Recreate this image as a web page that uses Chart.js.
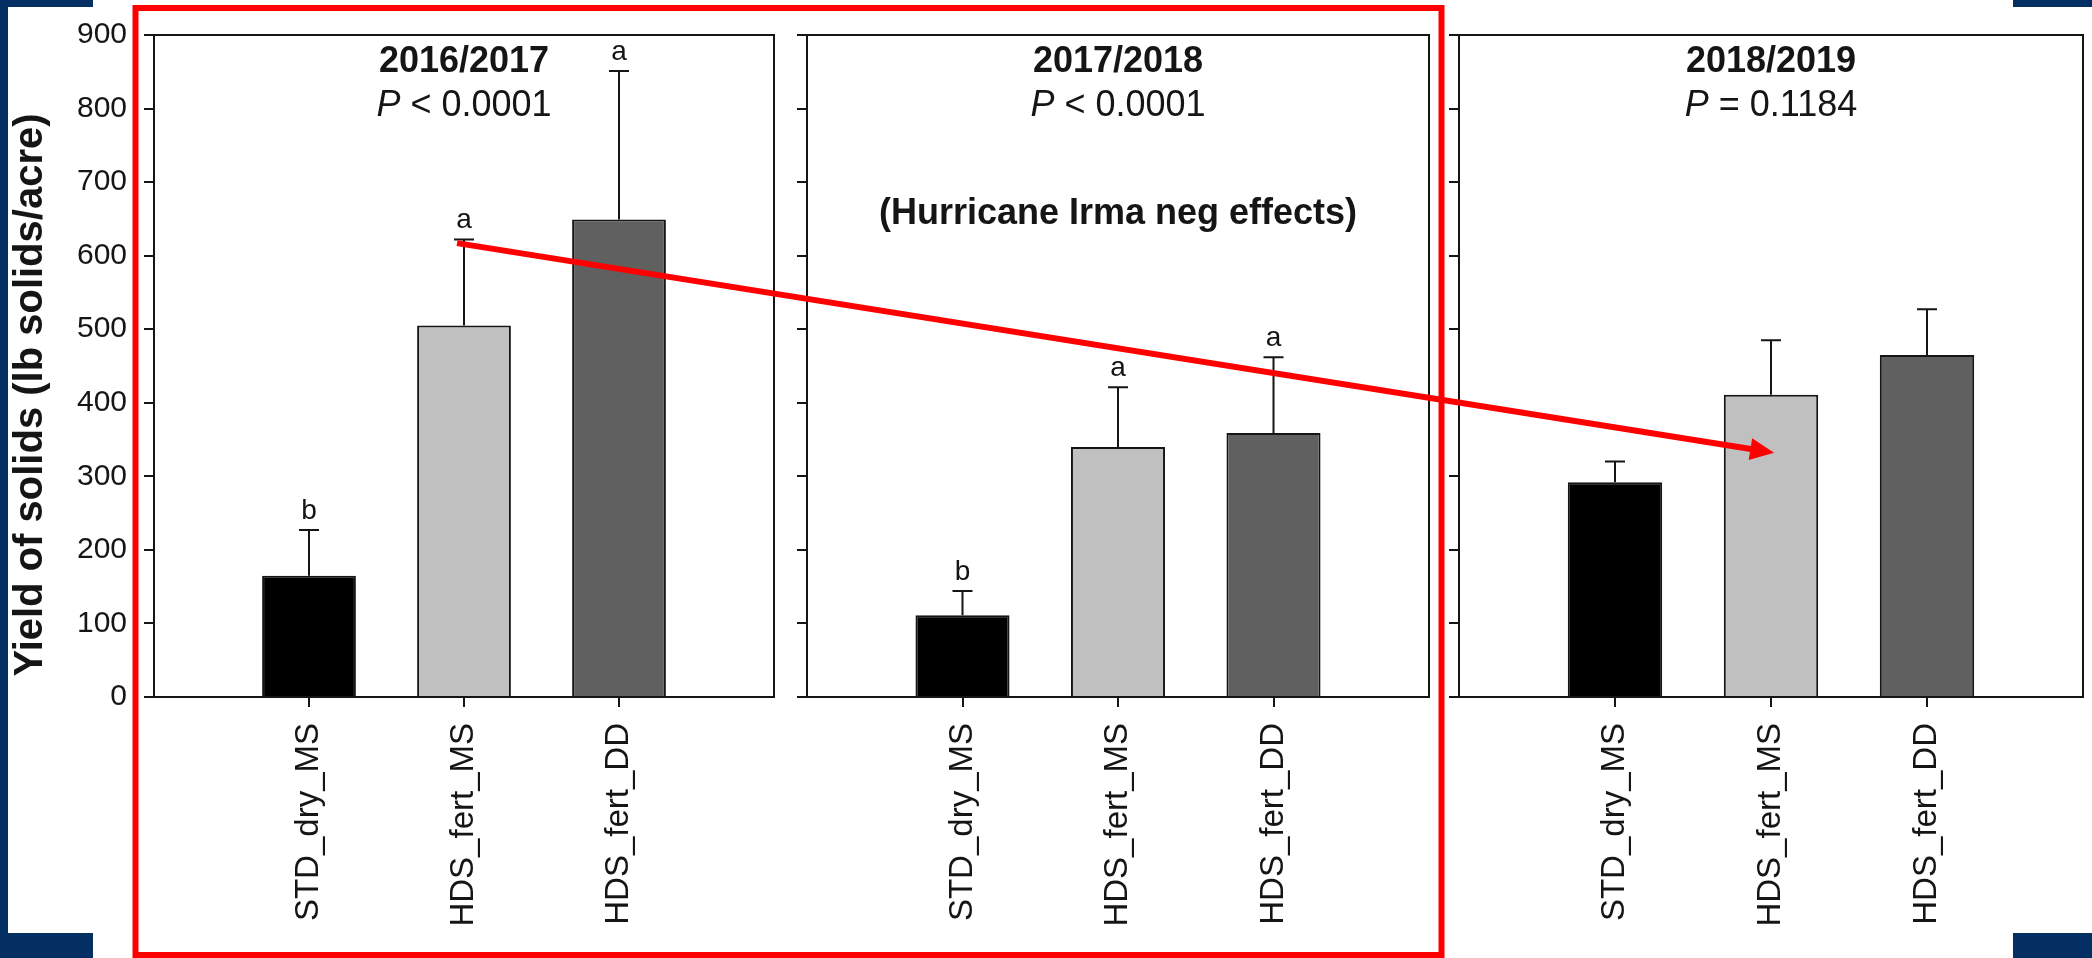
<!DOCTYPE html>
<html>
<head>
<meta charset="utf-8">
<title>Yield of solids by season</title>
<script src="https://cdn.jsdelivr.net/npm/chart.js@4.4.1/dist/chart.umd.min.js"></script>
<style>
  html, body { margin: 0; padding: 0; background: #ffffff; }
  #stage { position: relative; width: 2092px; height: 958px; overflow: hidden; background: #ffffff; }
  #stage canvas { position: absolute; left: 0; top: 0; }
</style>
</head>
<body>
<div id="stage">
  <canvas id="panel0" width="2092" height="958"></canvas>
  <canvas id="panel1" width="2092" height="958"></canvas>
  <canvas id="panel2" width="2092" height="958"></canvas>
  <canvas id="overlay" width="2092" height="958"></canvas>
</div>
<script>
// ---- data ----
const categories = ['STD_dry_MS', 'HDS_fert_MS', 'HDS_fert_DD'];
const seasons = ['2016/2017', '2017/2018', '2018/2019'];
const pRelations = ['<', '<', '='];
const pValues = ['0.0001', '0.0001', '0.1184'];
const yTickValues = [0, 100, 200, 300, 400, 500, 600, 700, 800, 900];

const yield1617 = [165, 505, 649];
const se1617 = [62, 117, 202];
const letters1617 = ['b', 'a', 'a'];

const yield1718 = [111, 340, 359];
const se1718 = [33, 81, 103];
const letters1718 = ['b', 'a', 'a'];

const yield1819 = [292, 411, 465];
const se1819 = [28, 74, 62];
const letters1819 = ['', '', ''];

const seasonNote = ['', '(Hurricane Irma neg effects)', ''];
const yTitle = 'Yield of solids (lb solids/acre)';

// ---- styling / layout ----
const FONT = "'Liberation Sans', Arial, Helvetica, sans-serif";
const INK = '#151515';
const barFill = ['#000000', '#c0c0c0', '#606060'];
const NAVY = '#032f63';
const RED = '#ff0000';
const W = 2092, H = 958;
const plotTop = 25, plotBottom = 697;
const panelFrames = [
  { padLeft: 0, left: 154, right: 774, labels: true },
  { padLeft: 780, left: 807, right: 1429, labels: false },
  { padLeft: 1432, left: 1459, right: 2083, labels: false }
];

Chart.defaults.font.family = FONT;
Chart.defaults.color = INK;

// error bars, significance letters, season headings and the panel box
const panelDecor = {
  id: 'panelDecor',
  afterDatasetsDraw(chart, args, opts) {
    const ctx = chart.ctx;
    const area = chart.chartArea;
    const ys = chart.scales.y;
    const meta = chart.getDatasetMeta(0);
    ctx.save();
    // box top and right side
    ctx.strokeStyle = INK;
    ctx.lineWidth = 2;
    ctx.beginPath();
    ctx.moveTo(area.left, area.top);
    ctx.lineTo(area.right, area.top);
    ctx.lineTo(area.right, area.bottom);
    ctx.stroke();

    // error bars
    ctx.lineWidth = 2;
    meta.data.forEach((bar, k) => {
      const v = opts.values[k];
      const e = opts.errors[k];
      const yBar = ys.getPixelForValue(v);
      const yTop = ys.getPixelForValue(v + e);
      ctx.beginPath();
      ctx.moveTo(bar.x, yBar);
      ctx.lineTo(bar.x, yTop);
      ctx.moveTo(bar.x - 10, yTop);
      ctx.lineTo(bar.x + 10, yTop);
      ctx.stroke();
      if (opts.letters[k]) {
        ctx.fillStyle = INK;
        ctx.font = '28px ' + FONT;
        ctx.textAlign = 'center';
        ctx.textBaseline = 'alphabetic';
        ctx.fillText(opts.letters[k], bar.x, yTop - 11);
      }
    });

    // headings
    const cx = (area.left + area.right) / 2;
    ctx.fillStyle = INK;
    ctx.textBaseline = 'alphabetic';
    ctx.textAlign = 'center';
    ctx.font = 'bold 36px ' + FONT;
    ctx.fillText(opts.season, cx, 72);

    const italicP = 'italic 36px ' + FONT;
    const plain = '36px ' + FONT;
    const rest = ' ' + opts.pRel + ' ' + opts.pVal;
    ctx.font = italicP;
    const wP = ctx.measureText('P').width;
    ctx.font = plain;
    const wRest = ctx.measureText(rest).width;
    const x0 = cx - (wP + wRest) / 2;
    ctx.textAlign = 'left';
    ctx.font = italicP;
    ctx.fillText('P', x0, 116);
    ctx.font = plain;
    ctx.fillText(rest, x0 + wP, 116);

    if (opts.note) {
      ctx.textAlign = 'center';
      ctx.font = 'bold 36px ' + FONT;
      ctx.fillText(opts.note, cx, 224);
    }
    ctx.restore();
  }
};

function makePanel(idx, values, errors, letters) {
  const frame = panelFrames[idx];
  const canvas = document.getElementById('panel' + idx);
  return new Chart(canvas, {
    type: 'bar',
    data: {
      datasets: [{
        data: values.map((v, k) => ({ x: k + 1, y: v })),
        backgroundColor: barFill,
        borderColor: INK,
        borderWidth: 2,
        borderSkipped: 'start',
        categoryPercentage: 1,
        barPercentage: 0.605
      }]
    },
    options: {
      responsive: false,
      animation: false,
      devicePixelRatio: 1,
      events: [],
      layout: { padding: { left: frame.padLeft, right: W - frame.right, top: plotTop, bottom: 0 } },
      plugins: {
        legend: { display: false },
        tooltip: { enabled: false },
        panelDecor: {
          values: values, errors: errors, letters: letters,
          season: seasons[idx], pRel: pRelations[idx], pVal: pValues[idx],
          note: seasonNote[idx]
        }
      },
      scales: {
        x: {
          type: 'linear',
          min: 0,
          max: categories.length + 1,
          offset: false,
          afterBuildTicks: (axis) => { axis.ticks = categories.map((c, k) => ({ value: k + 1 })); },
          afterFit: (axis) => { axis.height = H - plotBottom; },
          grid: { display: true, offset: false, drawOnChartArea: false, drawTicks: true, tickLength: 10, color: INK, lineWidth: 2 },
          border: { display: true, color: INK, width: 2 },
          ticks: {
            autoSkip: false, minRotation: 90, maxRotation: 90, padding: 16,
            color: INK, font: { size: 33 },
            callback: (v) => categories[v - 1] || ''
          }
        },
        y: {
          min: 0,
          max: 900,
          afterBuildTicks: (axis) => { axis.ticks = yTickValues.map(v => ({ value: v })); },
          afterFit: (axis) => { axis.width = frame.left - frame.padLeft; },
          grid: { display: true, drawOnChartArea: false, drawTicks: true, tickLength: 10, color: INK, lineWidth: 2 },
          border: { display: true, color: INK, width: 2 },
          ticks: {
            padding: 17, color: INK, font: { size: 30 },
            callback: (v) => frame.labels ? String(v) : ''
          }
        }
      }
    },
    plugins: [panelDecor]
  });
}

const charts = [
  makePanel(0, yield1617, se1617, letters1617),
  makePanel(1, yield1718, se1718, letters1718),
  makePanel(2, yield1819, se1819, letters1819)
];

// ---- slide decoration, highlight box, arrow and shared axis title ----
const ov = document.getElementById('overlay').getContext('2d');
ov.fillStyle = NAVY;
ov.fillRect(0, 0, 93, 7);
ov.fillRect(0, 0, 8, H);
ov.fillRect(0, 933, 93, 25);
ov.fillRect(2013, 0, 79, 7);
ov.fillRect(2013, 933, 79, 25);

ov.strokeStyle = RED;
ov.lineWidth = 6;
ov.strokeRect(135.5, 8, 1306, 947);

// arrow from the 2016/2017 HDS_fert_MS bar to the 2018/2019 one
const arrowFrom = { panel: 0, x: 1.955, y: 617 };
const arrowTo = { panel: 2, x: 2.02, y: 332 };
const ax0 = charts[arrowFrom.panel].scales.x.getPixelForValue(arrowFrom.x);
const ay0 = charts[arrowFrom.panel].scales.y.getPixelForValue(arrowFrom.y);
const ax1 = charts[arrowTo.panel].scales.x.getPixelForValue(arrowTo.x);
const ay1 = charts[arrowTo.panel].scales.y.getPixelForValue(arrowTo.y);
const ang = Math.atan2(ay1 - ay0, ax1 - ax0);
const headLen = 24, headHalf = 11;
ov.beginPath();
ov.moveTo(ax0, ay0);
ov.lineTo(ax1 - (headLen - 2) * Math.cos(ang), ay1 - (headLen - 2) * Math.sin(ang));
ov.stroke();
ov.fillStyle = RED;
ov.beginPath();
ov.moveTo(ax1, ay1);
ov.lineTo(ax1 - headLen * Math.cos(ang) + headHalf * Math.sin(ang), ay1 - headLen * Math.sin(ang) - headHalf * Math.cos(ang));
ov.lineTo(ax1 - headLen * Math.cos(ang) - headHalf * Math.sin(ang), ay1 - headLen * Math.sin(ang) + headHalf * Math.cos(ang));
ov.closePath();
ov.fill();

ov.save();
ov.translate(31, 395);
ov.rotate(-Math.PI / 2);
ov.fillStyle = INK;
ov.font = 'bold 40px ' + FONT;
ov.textAlign = 'center';
ov.textBaseline = 'middle';
ov.fillText(yTitle, 0, 0);
ov.restore();
</script>
</body>
</html>
